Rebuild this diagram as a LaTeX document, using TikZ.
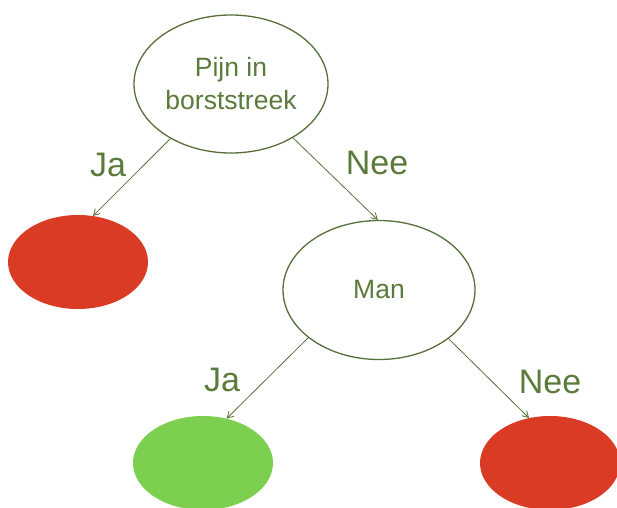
\documentclass[tikz,border=0pt]{standalone}
\usepackage{fontspec}
\setmainfont{Liberation Sans}
\usetikzlibrary{shapes.geometric,arrows.meta}
\definecolor{txtgreen}{HTML}{5B7B3C}
\definecolor{linegreen}{HTML}{56703A}
\definecolor{leafred}{HTML}{DA3B24}
\definecolor{leafgreen}{HTML}{7CCF4F}
\tikzset{
  question/.style={ellipse, draw=linegreen, line width=1.3pt, fill=white, inner sep=0pt,
    text=txtgreen, font=\fontsize{26.5}{33}\selectfont, align=center},
  leaf/.style={ellipse, draw=none, inner sep=0pt, minimum width=140pt, minimum height=94pt},
  edgelabel/.style={text=txtgreen, font=\fontsize{34}{38}\selectfont, inner sep=0pt},
  branch/.style={draw=linegreen, line width=0.8pt, -{Straight Barb[length=6pt,width=7pt]}}
}
\begin{document}
\begin{tikzpicture}[x=1pt,y=-1pt]
\useasboundingbox (0,0) rectangle (617,507);
\node[question, minimum width=194pt, minimum height=138pt] (root) at (231,84) {Pijn in\\borststreek};
\node[leaf, fill=leafred] (redleft) at (78,262) {};
\node[question, minimum width=192pt, minimum height=139pt] (man) at (379,290) {Man};
\node[leaf, fill=leafgreen] (greenleaf) at (203,463) {};
\node[leaf, fill=leafred] (redright) at (550,463) {};
\draw[branch] (root.222.6) -- (redleft.72.7);
\draw[branch] (root.319.7) -- (man.91);
\draw[branch] (man.214) -- (greenleaf.62);
\draw[branch] (man.325) -- (redright.115);
\node[edgelabel] (ja1) at (108,165) {Ja};
\node[edgelabel] (nee1) at (377,163) {Nee};
\node[edgelabel] (ja2) at (222,380) {Ja};
\node[edgelabel] (nee2) at (550,382) {Nee};
\end{tikzpicture}
\end{document}
